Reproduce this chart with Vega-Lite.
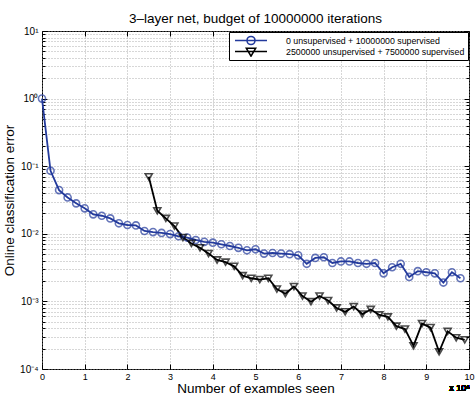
{
  "$schema": "https://vega.github.io/schema/vega-lite/v6.json",
  "width": 427,
  "height": 338,
  "autosize": "none",
  "padding": {"left": 42, "top": 31, "right": 6, "bottom": 24},
  "config": {
    "font": "Liberation Sans",
    "view": {"stroke": "black", "strokeWidth": 1}
  },
  "title": {
    "text": "3–layer net, budget of 10000000 iterations",
    "font": "Liberation Sans",
    "fontSize": 13.5,
    "fontWeight": "normal",
    "color": "black",
    "offset": 1
  },
  "data": {
    "values": [
      {"series": "0 unsupervised + 10000000 supervised", "examples": 0, "error": 1.0},
      {"series": "0 unsupervised + 10000000 supervised", "examples": 200000, "error": 0.0855},
      {"series": "0 unsupervised + 10000000 supervised", "examples": 400000, "error": 0.0443},
      {"series": "0 unsupervised + 10000000 supervised", "examples": 600000, "error": 0.0345},
      {"series": "0 unsupervised + 10000000 supervised", "examples": 800000, "error": 0.0282},
      {"series": "0 unsupervised + 10000000 supervised", "examples": 1000000, "error": 0.0238},
      {"series": "0 unsupervised + 10000000 supervised", "examples": 1200000, "error": 0.0194},
      {"series": "0 unsupervised + 10000000 supervised", "examples": 1400000, "error": 0.0185},
      {"series": "0 unsupervised + 10000000 supervised", "examples": 1600000, "error": 0.0169},
      {"series": "0 unsupervised + 10000000 supervised", "examples": 1800000, "error": 0.0143},
      {"series": "0 unsupervised + 10000000 supervised", "examples": 2000000, "error": 0.0135},
      {"series": "0 unsupervised + 10000000 supervised", "examples": 2200000, "error": 0.0133},
      {"series": "0 unsupervised + 10000000 supervised", "examples": 2400000, "error": 0.011},
      {"series": "0 unsupervised + 10000000 supervised", "examples": 2600000, "error": 0.0106},
      {"series": "0 unsupervised + 10000000 supervised", "examples": 2800000, "error": 0.0103},
      {"series": "0 unsupervised + 10000000 supervised", "examples": 3000000, "error": 0.0099},
      {"series": "0 unsupervised + 10000000 supervised", "examples": 3200000, "error": 0.0092},
      {"series": "0 unsupervised + 10000000 supervised", "examples": 3400000, "error": 0.0088},
      {"series": "0 unsupervised + 10000000 supervised", "examples": 3600000, "error": 0.0081},
      {"series": "0 unsupervised + 10000000 supervised", "examples": 3800000, "error": 0.0076},
      {"series": "0 unsupervised + 10000000 supervised", "examples": 4000000, "error": 0.0074},
      {"series": "0 unsupervised + 10000000 supervised", "examples": 4200000, "error": 0.007},
      {"series": "0 unsupervised + 10000000 supervised", "examples": 4400000, "error": 0.0066},
      {"series": "0 unsupervised + 10000000 supervised", "examples": 4600000, "error": 0.0062},
      {"series": "0 unsupervised + 10000000 supervised", "examples": 4800000, "error": 0.0057},
      {"series": "0 unsupervised + 10000000 supervised", "examples": 5000000, "error": 0.0059},
      {"series": "0 unsupervised + 10000000 supervised", "examples": 5200000, "error": 0.0051},
      {"series": "0 unsupervised + 10000000 supervised", "examples": 5400000, "error": 0.0052},
      {"series": "0 unsupervised + 10000000 supervised", "examples": 5600000, "error": 0.0051},
      {"series": "0 unsupervised + 10000000 supervised", "examples": 5800000, "error": 0.005},
      {"series": "0 unsupervised + 10000000 supervised", "examples": 6000000, "error": 0.0048},
      {"series": "0 unsupervised + 10000000 supervised", "examples": 6200000, "error": 0.0036},
      {"series": "0 unsupervised + 10000000 supervised", "examples": 6400000, "error": 0.0044},
      {"series": "0 unsupervised + 10000000 supervised", "examples": 6600000, "error": 0.0045},
      {"series": "0 unsupervised + 10000000 supervised", "examples": 6800000, "error": 0.0037},
      {"series": "0 unsupervised + 10000000 supervised", "examples": 7000000, "error": 0.0039},
      {"series": "0 unsupervised + 10000000 supervised", "examples": 7200000, "error": 0.0039},
      {"series": "0 unsupervised + 10000000 supervised", "examples": 7400000, "error": 0.0037},
      {"series": "0 unsupervised + 10000000 supervised", "examples": 7600000, "error": 0.0036},
      {"series": "0 unsupervised + 10000000 supervised", "examples": 7800000, "error": 0.0037},
      {"series": "0 unsupervised + 10000000 supervised", "examples": 8000000, "error": 0.0026},
      {"series": "0 unsupervised + 10000000 supervised", "examples": 8200000, "error": 0.0032},
      {"series": "0 unsupervised + 10000000 supervised", "examples": 8400000, "error": 0.0036},
      {"series": "0 unsupervised + 10000000 supervised", "examples": 8600000, "error": 0.0023},
      {"series": "0 unsupervised + 10000000 supervised", "examples": 8800000, "error": 0.0028},
      {"series": "0 unsupervised + 10000000 supervised", "examples": 9000000, "error": 0.0027},
      {"series": "0 unsupervised + 10000000 supervised", "examples": 9200000, "error": 0.0026},
      {"series": "0 unsupervised + 10000000 supervised", "examples": 9400000, "error": 0.0019},
      {"series": "0 unsupervised + 10000000 supervised", "examples": 9600000, "error": 0.0027},
      {"series": "0 unsupervised + 10000000 supervised", "examples": 9800000, "error": 0.0022},
      {"series": "2500000 unsupervised + 7500000 supervised", "examples": 2500000, "error": 0.0697},
      {"series": "2500000 unsupervised + 7500000 supervised", "examples": 2700000, "error": 0.0219},
      {"series": "2500000 unsupervised + 7500000 supervised", "examples": 2900000, "error": 0.0169},
      {"series": "2500000 unsupervised + 7500000 supervised", "examples": 3100000, "error": 0.013},
      {"series": "2500000 unsupervised + 7500000 supervised", "examples": 3300000, "error": 0.0088},
      {"series": "2500000 unsupervised + 7500000 supervised", "examples": 3500000, "error": 0.0072},
      {"series": "2500000 unsupervised + 7500000 supervised", "examples": 3700000, "error": 0.0062},
      {"series": "2500000 unsupervised + 7500000 supervised", "examples": 3900000, "error": 0.0051},
      {"series": "2500000 unsupervised + 7500000 supervised", "examples": 4100000, "error": 0.0041},
      {"series": "2500000 unsupervised + 7500000 supervised", "examples": 4300000, "error": 0.0038},
      {"series": "2500000 unsupervised + 7500000 supervised", "examples": 4500000, "error": 0.0033},
      {"series": "2500000 unsupervised + 7500000 supervised", "examples": 4700000, "error": 0.0024},
      {"series": "2500000 unsupervised + 7500000 supervised", "examples": 4900000, "error": 0.0022},
      {"series": "2500000 unsupervised + 7500000 supervised", "examples": 5100000, "error": 0.0021},
      {"series": "2500000 unsupervised + 7500000 supervised", "examples": 5300000, "error": 0.0022},
      {"series": "2500000 unsupervised + 7500000 supervised", "examples": 5500000, "error": 0.00152},
      {"series": "2500000 unsupervised + 7500000 supervised", "examples": 5700000, "error": 0.0013},
      {"series": "2500000 unsupervised + 7500000 supervised", "examples": 5900000, "error": 0.00166},
      {"series": "2500000 unsupervised + 7500000 supervised", "examples": 6100000, "error": 0.0012},
      {"series": "2500000 unsupervised + 7500000 supervised", "examples": 6300000, "error": 0.00099},
      {"series": "2500000 unsupervised + 7500000 supervised", "examples": 6500000, "error": 0.0012},
      {"series": "2500000 unsupervised + 7500000 supervised", "examples": 6700000, "error": 0.00103},
      {"series": "2500000 unsupervised + 7500000 supervised", "examples": 6900000, "error": 0.0008},
      {"series": "2500000 unsupervised + 7500000 supervised", "examples": 7100000, "error": 0.0007},
      {"series": "2500000 unsupervised + 7500000 supervised", "examples": 7300000, "error": 0.00084},
      {"series": "2500000 unsupervised + 7500000 supervised", "examples": 7500000, "error": 0.00065},
      {"series": "2500000 unsupervised + 7500000 supervised", "examples": 7700000, "error": 0.00076},
      {"series": "2500000 unsupervised + 7500000 supervised", "examples": 7900000, "error": 0.00063},
      {"series": "2500000 unsupervised + 7500000 supervised", "examples": 8100000, "error": 0.00059},
      {"series": "2500000 unsupervised + 7500000 supervised", "examples": 8300000, "error": 0.00043},
      {"series": "2500000 unsupervised + 7500000 supervised", "examples": 8500000, "error": 0.00039},
      {"series": "2500000 unsupervised + 7500000 supervised", "examples": 8700000, "error": 0.00022},
      {"series": "2500000 unsupervised + 7500000 supervised", "examples": 8900000, "error": 0.00047},
      {"series": "2500000 unsupervised + 7500000 supervised", "examples": 9100000, "error": 0.00041},
      {"series": "2500000 unsupervised + 7500000 supervised", "examples": 9300000, "error": 0.00018},
      {"series": "2500000 unsupervised + 7500000 supervised", "examples": 9500000, "error": 0.00036},
      {"series": "2500000 unsupervised + 7500000 supervised", "examples": 9700000, "error": 0.00029},
      {"series": "2500000 unsupervised + 7500000 supervised", "examples": 9900000, "error": 0.00027}
    ]
  },
  "resolve": {
    "axis": {"x": "independent", "y": "independent"},
    "scale": {"shape": "independent", "color": "independent"}
  },
  "layer": [
    {
      "mark": {"type": "line", "strokeWidth": 1.8},
      "encoding": {
        "x": {
          "field": "examples",
          "type": "quantitative",
          "scale": {"domain": [0, 10000000], "nice": false, "zero": false},
          "axis": {
            "orient": "bottom",
            "values": [0, 1000000, 2000000, 3000000, 4000000, 5000000, 6000000, 7000000, 8000000, 9000000, 10000000],
            "labelExpr": "format(datum.value / 1000000, 'd')",
            "labelFlush": false,
            "labelOverlap": false,
            "labelFontSize": 9,
            "labelColor": "black",
            "labelPadding": 8,
            "grid": true,
            "gridDash": [1, 2],
            "gridColor": "#9a9a9a",
            "gridWidth": 0.8,
            "tickSize": -5,
            "tickColor": "black",
            "domain": false,
            "title": "Number of examples seen",
            "titleFontSize": 13.5,
            "titleFontWeight": "normal",
            "titleColor": "black",
            "titlePadding": 0
          }
        },
        "y": {
          "field": "error",
          "type": "quantitative",
          "scale": {"type": "log", "domain": [0.0001, 10], "nice": false},
          "axis": {
            "orient": "left",
            "values": [0.0001, 0.0002, 0.0003, 0.0004, 0.0005, 0.0006, 0.0007, 0.0008, 0.0009,
                       0.001, 0.002, 0.003, 0.004, 0.005, 0.006, 0.007, 0.008, 0.009,
                       0.01, 0.02, 0.03, 0.04, 0.05, 0.06, 0.07, 0.08, 0.09,
                       0.1, 0.2, 0.3, 0.4, 0.5, 0.6, 0.7, 0.8, 0.9,
                       1, 2, 3, 4, 5, 6, 7, 8, 9, 10],
            "labelExpr": "abs(log(datum.value) / LN10 - round(log(datum.value) / LN10)) < 0.001 ? ['10⁻⁴', '10⁻³', '10⁻²', '10⁻¹', '10⁰', '10¹'][round(log(datum.value) / LN10) + 4] : ''",
            "labelOverlap": false,
            "labelFlush": false,
            "labelFontSize": 10,
            "labelColor": "black",
            "labelPadding": 9,
            "grid": true,
            "gridDash": [1, 2],
            "gridColor": "#9a9a9a",
            "gridWidth": 0.8,
            "tickSize": {"condition": {"test": "abs(log(datum.value) / LN10 - round(log(datum.value) / LN10)) < 0.001", "value": -5}, "value": -3},
            "tickColor": "black",
            "domain": false,
            "title": "Online classification error",
            "titleFontSize": 13.5,
            "titleFontWeight": "normal",
            "titleColor": "black",
            "titlePadding": 3
          }
        },
        "color": {
          "field": "series",
          "type": "nominal",
          "scale": {
            "domain": ["0 unsupervised + 10000000 supervised", "2500000 unsupervised + 7500000 supervised"],
            "range": ["#233a9c", "#000000"]
          },
          "legend": null
        }
      }
    },
    {
      "mark": {"type": "point", "filled": false, "strokeWidth": 1.6, "size": 50},
      "encoding": {
        "x": {
          "field": "examples",
          "type": "quantitative",
          "axis": {
            "orient": "top",
            "values": [0, 1000000, 2000000, 3000000, 4000000, 5000000, 6000000, 7000000, 8000000, 9000000, 10000000],
            "labels": false,
            "grid": false,
            "tickSize": -5,
            "tickColor": "black",
            "domain": false,
            "title": null
          }
        },
        "y": {
          "field": "error",
          "type": "quantitative",
          "axis": {
            "orient": "right",
            "values": [0.0001, 0.0002, 0.0003, 0.0004, 0.0005, 0.0006, 0.0007, 0.0008, 0.0009,
                       0.001, 0.002, 0.003, 0.004, 0.005, 0.006, 0.007, 0.008, 0.009,
                       0.01, 0.02, 0.03, 0.04, 0.05, 0.06, 0.07, 0.08, 0.09,
                       0.1, 0.2, 0.3, 0.4, 0.5, 0.6, 0.7, 0.8, 0.9,
                       1, 2, 3, 4, 5, 6, 7, 8, 9, 10],
            "labels": false,
            "grid": false,
            "tickSize": {"condition": {"test": "abs(log(datum.value) / LN10 - round(log(datum.value) / LN10)) < 0.001", "value": -5}, "value": -3},
            "tickColor": "black",
            "domain": false,
            "title": null
          }
        },
        "color": {
          "field": "series",
          "type": "nominal",
          "scale": {
            "domain": ["0 unsupervised + 10000000 supervised", "2500000 unsupervised + 7500000 supervised"],
            "range": ["#233a9c", "#000000"]
          },
          "legend": null
        },
        "shape": {
          "field": "series",
          "type": "nominal",
          "scale": {
            "domain": ["0 unsupervised + 10000000 supervised", "2500000 unsupervised + 7500000 supervised"],
            "range": ["circle", "triangle-down"]
          },
          "legend": null
        }
      }
    },
    {
      "description": "Invisible copy of the markers that only supplies the legend's line-and-marker keys.",
      "mark": {"type": "point", "filled": false, "strokeWidth": 1.6, "opacity": 0},
      "encoding": {
        "x": {"field": "examples", "type": "quantitative", "axis": null},
        "y": {"field": "error", "type": "quantitative", "axis": null},
        "color": {
          "field": "series",
          "type": "nominal",
          "scale": {
            "domain": ["0 unsupervised + 10000000 supervised", "2500000 unsupervised + 7500000 supervised"],
            "range": ["#233a9c", "#000000"]
          },
          "legend": {
            "title": null,
            "orient": "top-right",
            "offset": 1,
            "padding": 3,
            "strokeColor": "black",
            "fillColor": "white",
            "labelFontSize": 8.8,
            "labelColor": "black",
            "labelAlign": "left",
            "labelLimit": 400,
            "symbolSize": 64,
            "symbolOpacity": 1,
            "symbolStrokeWidth": 1.6,
            "symbolOffset": 14,
            "labelOffset": 30,
            "clipHeight": 11,
            "rowPadding": 0
          }
        },
        "shape": {
          "field": "series",
          "type": "nominal",
          "scale": {
            "domain": ["0 unsupervised + 10000000 supervised", "2500000 unsupervised + 7500000 supervised"],
            "range": ["M-4,0H4M1,0A1,1,0,1,0,-1,0A1,1,0,1,0,1,0", "M-4,0H4M-1.15,-0.8H1.15L0,1.15Z"]
          },
          "legend": {
            "title": null,
            "orient": "top-right",
            "offset": 1,
            "padding": 3,
            "strokeColor": "black",
            "fillColor": "white",
            "labelFontSize": 8.8,
            "labelColor": "black",
            "labelAlign": "left",
            "labelLimit": 400,
            "symbolSize": 64,
            "symbolOpacity": 1,
            "symbolStrokeWidth": 1.6,
            "symbolOffset": 14,
            "labelOffset": 30,
            "clipHeight": 11,
            "rowPadding": 0
          }
        }
      }
    },
    {
      "mark": {"type": "text", "text": "x 10⁶", "fontSize": 9, "align": "right", "baseline": "top", "dy": 15, "dx": 1, "color": "black"},
      "encoding": {
        "x": {"datum": 10000000, "type": "quantitative", "axis": null},
        "y": {"datum": 0.0001, "type": "quantitative", "axis": null}
      }
    }
  ]
}
